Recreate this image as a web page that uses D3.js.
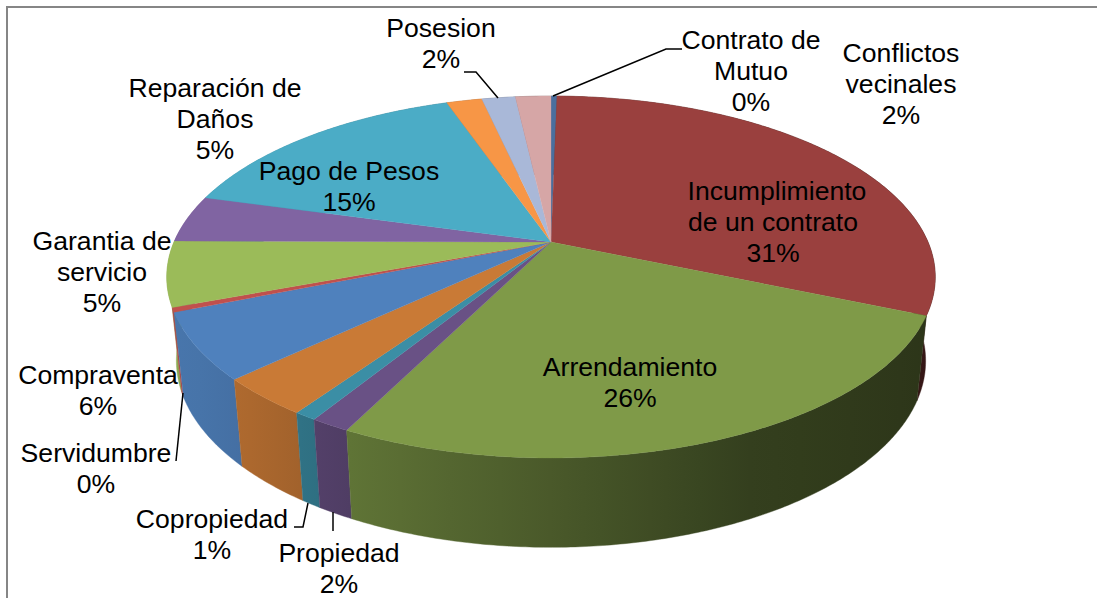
<!DOCTYPE html>
<html><head><meta charset="utf-8">
<style>html,body{margin:0;padding:0;background:#fff}svg{display:block}text{font-family:"Liberation Sans",Arial,sans-serif;fill:#000}</style>
<script src="https://cdn.jsdelivr.net/npm/d3@7"></script></head>
<body><svg id="c" width="1097" height="598"></svg>
<script>
// Data (clockwise from 12 o'clock)
const categories = ["Contrato de Mutuo","Incumplimiento de un contrato","Arrendamiento","Propiedad","Copropiedad","Otros","Compraventa","Servidumbre","Garantia de servicio","Reparación de Daños","Pago de Pesos","Otros 2","Posesion","Conflictos vecinales"];
const values = [0.3,31.1,26.0,1.4,0.8,3.4,5.9,0.4,5.8,4.2,15.4,1.8,1.7,1.8];
const percentLabels = ["0%","31%","26%","2%","1%","","6%","0%","5%","5%","15%","","2%","2%"];
const topColors = ["#4a6f9e","#9a403e","#7f9a48","#695185","#3b8ea5","#c97a36","#4f81bd","#c0504d","#9bbb59","#8064a2","#4bacc6","#f79646","#a9b8d8","#d6a6a6"];

// Layout
const cx=551,cy=242,persp=-0.1934,ya=127.4,xd=377;
const botX=0.975,botY=1.03,botY0=75.6;
const labelLayout=[
 {lines:["Contrato de","Mutuo"],i:0,x:751,y:49},
 {lines:["Incumplimiento","de un contrato"],i:1,x:777,y:200,dx:[0,-4,-4]},
 {lines:["Arrendamiento"],i:2,x:630,y:376},
 {lines:["Propiedad"],i:3,x:339,y:562},
 {lines:["Copropiedad"],i:4,x:212,y:528},
 {lines:["Compraventa"],i:6,x:98,y:384},
 {lines:["Servidumbre"],i:7,x:96,y:462},
 {lines:["Garantia de","servicio"],i:8,x:102,y:250},
 {lines:["Reparación de","Daños"],i:9,x:215,y:97},
 {lines:["Pago de Pesos"],i:10,x:349,y:180},
 {lines:["Posesion"],i:12,x:441,y:37},
 {lines:["Conflictos","vecinales"],i:13,x:901,y:62}
];
const leaders=[
 [[553,96],[666,49],[682,49]],
 [[498,98],[476,72],[464,72]],
 [[183,393],[176,461]],
 [[308,503],[303,527],[294,527]],
 [[333,512],[333,531]]
];

const svg=d3.select("#c");
// frame
svg.append("path").attr("d",d3.line()([[7,598],[7,7],[1097,7]])).attr("fill","none").attr("stroke","#868686").attr("stroke-width",2);

// Perspective projection of the unit disc
function topPt(t){const u=Math.sin(t),v=-Math.cos(t),w=1+persp*v;return [cx+xd*u/w,(ya*v+cy)/w];}
function botPt(t){const p=topPt(t);return [cx+botX*(p[0]-cx),botY*p[1]+botY0];}
const arcs=d3.pie().sort(null).value(d=>d)(values);
const stepA=0.01,lineGen=d3.line();
function angles(a){const n=Math.max(2,Math.ceil((a.endAngle-a.startAngle)/stepA));return d3.range(n+1).map(k=>a.startAngle+(a.endAngle-a.startAngle)*k/n);}

// wall shading by x
const shade=d3.scaleLinear().domain([170,270,350,550,750,900,940]).range([.92,.84,.75,.58,.41,.36,.34]).clamp(true);
const defs=svg.append("defs");
arcs.forEach((a,i)=>{
  const g=defs.append("linearGradient").attr("id","w"+i).attr("gradientUnits","userSpaceOnUse").attr("x1",150).attr("x2",950).attr("y1",0).attr("y2",0);
  const col=d3.rgb(topColors[i]);
  d3.range(0,17).forEach(k=>{const x=150+50*k,f=shade(x);
    g.append("stop").attr("offset",k/16).attr("stop-color",d3.rgb(col.r*f,col.g*f,col.b*f).formatHex());});
});
// walls: side first, front last
const order=arcs.map((a,i)=>i).sort((p,q)=>{
  const m=a=>Math.abs((a.startAngle+a.endAngle)/2-Math.PI);
  return m(arcs[q])-m(arcs[p]);});
svg.append("g").selectAll("path").data(order).join("path")
  .attr("d",i=>{const t=angles(arcs[i]);return lineGen(t.map(topPt).concat(t.slice().reverse().map(botPt)))+"Z";})
  .attr("fill",i=>`url(#w${i})`).attr("stroke",i=>`url(#w${i})`).attr("stroke-width",.4);
// top
svg.append("g").selectAll("path").data(arcs).join("path")
  .attr("d",a=>lineGen([[cx,cy]].concat(angles(a).map(topPt)))+"Z")
  .attr("fill",(a,i)=>topColors[i]).attr("stroke",(a,i)=>topColors[i]).attr("stroke-width",.3);

// leaders
svg.append("g").selectAll("path").data(leaders).join("path").attr("d",d=>lineGen(d))
  .attr("fill","none").attr("stroke","#000").attr("stroke-width",1.5);

// labels
const fs=26.6,lh=31;
const lab=svg.append("g").attr("text-anchor","middle").attr("font-size",fs);
labelLayout.forEach(l=>{
  l.lines.concat([percentLabels[l.i]]).forEach((s,k)=>{
    lab.append("text").attr("x",l.x+(l.dx?l.dx[k]:0)).attr("y",l.y+k*lh).text(s);
  });
});
</script></body></html>
